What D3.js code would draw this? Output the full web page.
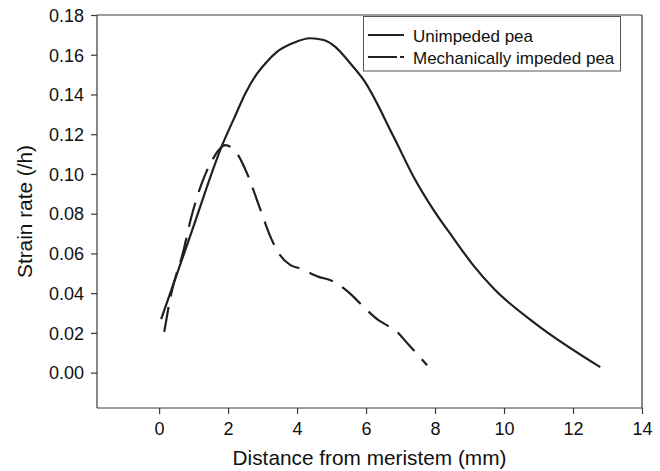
<!DOCTYPE html>
<html>
<head>
<meta charset="utf-8">
<script src="https://cdn.jsdelivr.net/npm/d3@7"></script>
<style>
  html, body { margin: 0; padding: 0; background: #fff; }
  svg { display: block; font-family: "Liberation Sans", Arial, sans-serif; }
</style>
</head>
<body>
<svg id="chart" width="660" height="471"></svg>
<script>
// ---- data ----
const unimpededX = [0.06, 0.94, 1.83, 2.20, 2.50, 2.80, 3.10, 3.40, 3.90, 4.38, 4.77, 5.11, 5.54, 5.93, 6.80, 7.38, 7.96, 8.54, 9.07, 9.70, 10.91, 12.79];
const unimpededY = [0.0269, 0.0707, 0.1145, 0.1290, 0.1405, 0.1495, 0.1560, 0.1612, 0.1660, 0.1683, 0.1674, 0.1640, 0.1557, 0.1473, 0.1187, 0.0985, 0.0818, 0.0675, 0.0549, 0.0423, 0.0247, 0.0028];
const impededX = [0.15, 0.33, 0.71, 0.91, 1.20, 1.54, 1.92, 2.26, 2.55, 2.89, 3.23, 3.47, 3.81, 4.10, 4.63, 4.97, 5.54, 5.83, 6.37, 6.61, 6.90, 7.19, 7.43, 7.77];
const impededY = [0.0205, 0.0381, 0.0616, 0.0767, 0.0935, 0.1070, 0.1145, 0.1103, 0.1003, 0.0843, 0.0683, 0.0600, 0.0541, 0.0524, 0.0482, 0.0465, 0.0398, 0.0348, 0.0263, 0.0238, 0.0205, 0.0149, 0.0104, 0.0037];
const seriesNames = ["Unimpeded pea", "Mechanically impeded pea"];
const xTicks = [0, 2, 4, 6, 8, 10, 12, 14];
const yTicks = [0.00, 0.02, 0.04, 0.06, 0.08, 0.10, 0.12, 0.14, 0.16, 0.18];
const xTitle = "Distance from meristem (mm)";
const yTitle = "Strain rate (/h)";

// ---- layout ----
const pL = 97, pR = 642, pT = 15, pB = 408;
const svg = d3.select("#chart");
const x = d3.scaleLinear().domain([-1.8, 14]).range([pL, pR]);
const y = d3.scaleLinear().domain([-0.0178, 0.18]).range([pB, pT]);
const ink = "#231f20";
const frame = "#3a3a3a";

// frame (top & right)
svg.append("line").attr("x1", pL).attr("x2", pR).attr("y1", pT).attr("y2", pT)
  .attr("stroke", frame).attr("stroke-width", 1.2);
svg.append("line").attr("x1", pR).attr("x2", pR).attr("y1", pT).attr("y2", pB)
  .attr("stroke", frame).attr("stroke-width", 1.2);

// axes
const xAxis = svg.append("g").attr("transform", `translate(0,${pB})`)
  .call(d3.axisBottom(x).tickValues(xTicks).tickFormat(d3.format("d")).tickSize(6).tickSizeOuter(0));
const yAxis = svg.append("g").attr("transform", `translate(${pL},0)`)
  .call(d3.axisLeft(y).tickValues(yTicks).tickFormat(d3.format(".2f")).tickSize(6).tickSizeOuter(0));
[xAxis, yAxis].forEach(g => {
  g.select(".domain").attr("stroke", frame).attr("stroke-width", 1.2);
  g.selectAll(".tick line").attr("stroke", frame).attr("stroke-width", 1.2);
  g.selectAll(".tick text").attr("fill", "#111").style("font-size", "18px")
    .style("font-family", "'Liberation Sans', Arial, sans-serif");
});
xAxis.selectAll(".tick text").attr("dy", "0").attr("y", 27);
yAxis.selectAll(".tick text").attr("x", -13).attr("dy", "0.35em");
xAxis.select(".domain").attr("d", `M${pL},0H${pR}`);
yAxis.select(".domain").attr("d", `M0,${pT}V${pB}`);

// titles
svg.append("text").attr("x", (pL + pR) / 2).attr("y", 465)
  .attr("text-anchor", "middle").style("font-size", "20.8px").attr("fill", "#111").text(xTitle);
svg.append("text").attr("transform", `translate(32,${(pT + pB) / 2}) rotate(-90)`)
  .attr("text-anchor", "middle").style("font-size", "20.8px").attr("fill", "#111").text(yTitle);

// lines
const line = d3.line().x(d => x(d[0])).y(d => y(d[1])).curve(d3.curveMonotoneX);
const unimpeded = unimpededX.map((v, i) => [v, unimpededY[i]]);
const impeded = impededX.map((v, i) => [v, impededY[i]]);

svg.append("path").datum(impeded).attr("d", line).attr("fill", "none")
  .attr("stroke", ink).attr("stroke-width", 2.2).attr("stroke-dasharray", "25,11");
svg.append("path").datum(unimpeded).attr("d", line).attr("fill", "none")
  .attr("stroke", ink).attr("stroke-width", 2.2);

// legend
const lg = svg.append("g");
lg.append("rect").attr("x", 363.5).attr("y", 16.5).attr("width", 257).attr("height", 54.5)
  .attr("fill", "#fff").attr("stroke", "#555").attr("stroke-width", 1);
const rows = [{ yy: 35, dash: null }, { yy: 57, dash: "29,3,4,200" }];
rows.forEach((r, i) => {
  const l = lg.append("line").attr("x1", 368).attr("x2", 404).attr("y1", r.yy).attr("y2", r.yy)
    .attr("stroke", ink).attr("stroke-width", 2.2);
  if (r.dash) l.attr("stroke-dasharray", r.dash);
  lg.append("text").attr("x", 413).attr("y", r.yy + 6.5).style("font-size", "17px")
    .attr("fill", "#111").text(seriesNames[i]);
});
</script>
</body>
</html>
